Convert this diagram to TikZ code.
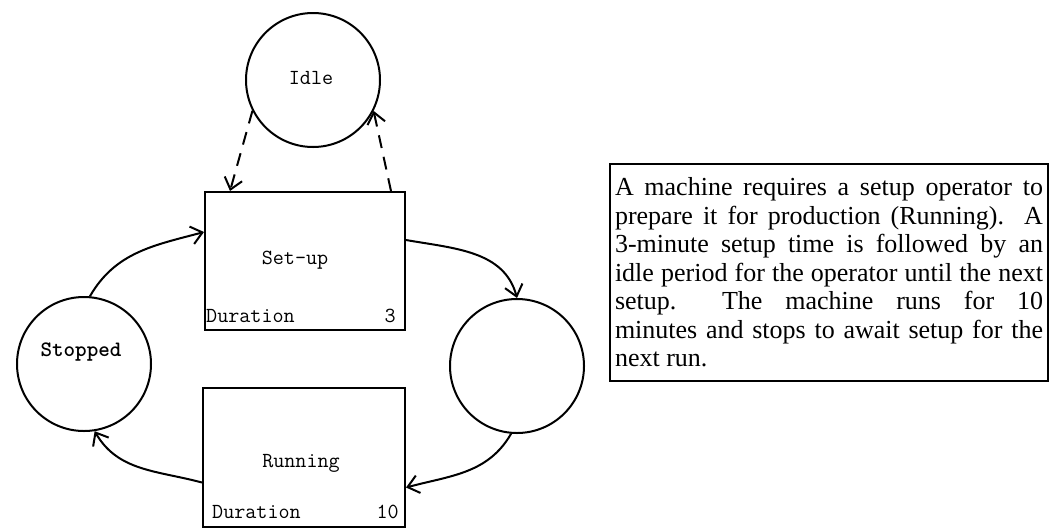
\documentclass[tikz,border=0pt]{standalone}
\usepackage{fontspec}
\setmainfont{Liberation Serif}
\usetikzlibrary{arrows.meta}
\begin{document}
\begin{tikzpicture}[x=1pt,y=-1pt,
  state/.style={circle, draw, line width=2pt, minimum size=134pt, inner sep=0pt},
  actbox/.style={rectangle, draw, line width=2pt, inner sep=0pt},
  lbl/.style={font=\ttfamily\fontsize{21.5pt}{24pt}\selectfont, inner sep=0pt},
  flow/.style={line width=2pt, -{Straight Barb[length=11pt,width=18pt,line width=2pt]}},
  dflow/.style={flow, dash pattern=on 13pt off 9pt}]
\useasboundingbox (0,0) rectangle (1057,531);
% states
\node[state] (idle) at (313,80) {};
\node[state] (stopped) at (84,364) {};
\node[state] (rc) at (517,366) {};
% activities
\node[actbox, minimum width=200pt, minimum height=138pt] (setup) at (305,261) {};
\node[actbox, minimum width=202pt, minimum height=139pt] (running) at (304,457.5) {};
% labels
\node[lbl] (idlel) at (311,78) {Idle};
\node[lbl] (setupl) at (295,260) {Set-up};
\node[lbl, anchor=base west] (sdur) at (206,322) {Duration};
\node[lbl, anchor=base east] (sdurv) at (396,322) {3};
\node[lbl, font=\ttfamily\bfseries\fontsize{22pt}{24pt}\selectfont] (stoppedl) at (81,352) {Stopped};
\node[lbl] (runl) at (301,463) {Running};
\node[lbl, anchor=base west] (rdur) at (212,518) {Duration};
\node[lbl, anchor=base east] (rdurv) at (399,518) {10};
% text box
\node[draw, line width=2pt, minimum width=438pt, minimum height=217pt, inner sep=0pt] (desc) at (829,272.5)
 {\parbox{428pt}{\fontsize{26pt}{28.5pt}\selectfont
 A machine requires a setup operator to\linebreak
 prepare it for production (Running).\ \ A\linebreak
 3-minute setup time is followed by an\linebreak
 idle period for the operator until the next\linebreak
 setup.\ \ The machine runs for 10\linebreak
 minutes and stops to await setup for the\linebreak
 next run.}};
% connectors
\draw[flow] (stopped.85) to[out=60, in=195] ([yshift=29pt]setup.west);
\draw[flow] ([yshift=21pt]setup.east) to[out=-10, in=105] (rc.north);
\draw[flow] (rc.-95) to[out=-120, in=15] ([yshift=-30pt]running.east);
\draw[flow] ([yshift=-25pt]running.west) to[out=165, in=-60] (stopped.-81);
\draw[dflow] (idle.207) -- ([xshift=-75pt]setup.north);
\draw[dflow] ([xshift=86pt]setup.north) -- (idle.-27);
\end{tikzpicture}
\end{document}
